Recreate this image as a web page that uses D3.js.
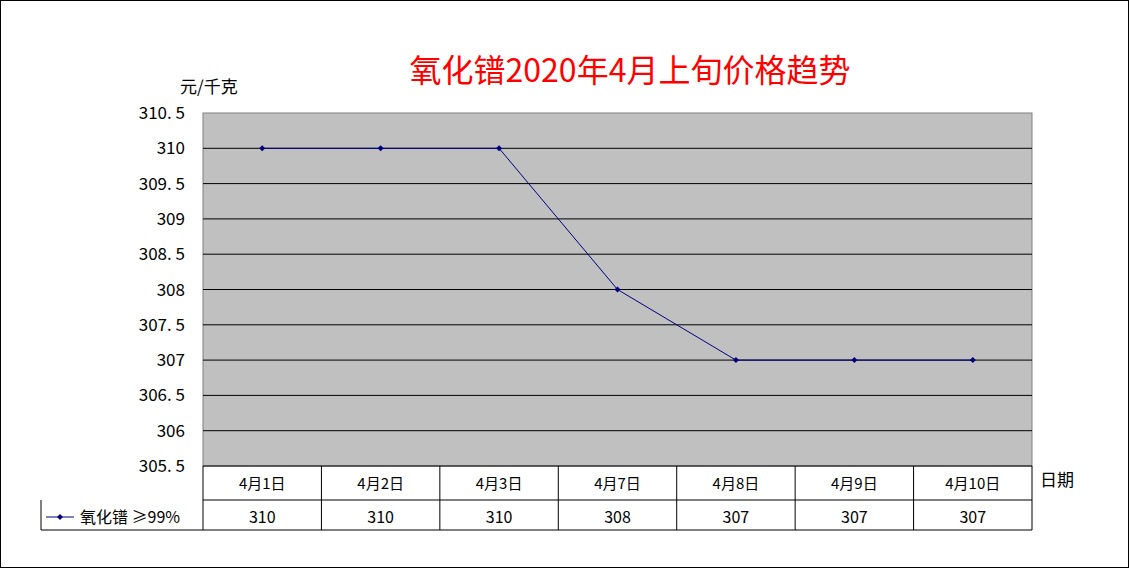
<!DOCTYPE html><html><head><meta charset="utf-8"><script src="https://cdn.jsdelivr.net/npm/d3@7"></script>
<style>body{margin:0;background:#fff}svg{display:block}text{font-family:"Noto Sans CJK SC","DejaVu Sans",sans-serif}</style></head><body><script>
const categories=["4月1日","4月2日","4月3日","4月7日","4月8日","4月9日","4月10日"];
const values=[310,310,310,308,307,307,307];
const yTicks=[305.5,306,306.5,307,307.5,308,308.5,309,309.5,310,310.5];
const seriesName="氧化镨 ≥99%";
const W=1130,H=569;
const svg=d3.select("body").append("svg").attr("width",W).attr("height",H);
svg.append("rect").attr("x",0.5).attr("y",0.5).attr("width",W-2).attr("height",H-2).attr("fill","#fff").attr("stroke","#000");
const L=203,R=1032,T=113,B=466;
const x=d3.scaleBand().domain(categories).range([L,R]);
const y=d3.scaleLinear().domain([305.5,310.5]).range([B,T]);
svg.append("rect").attr("x",L).attr("y",T).attr("width",R-L).attr("height",B-T).attr("fill","#c0c0c0").attr("stroke","#808080");
svg.selectAll(".g").data(yTicks.slice(1,-1)).join("line").attr("x1",L).attr("x2",R).attr("y1",d=>y(d)).attr("y2",d=>y(d)).attr("stroke","#000");
svg.selectAll(".yt").data(yTicks).join("text").attr("x",L-18).attr("y",d=>y(d)+6).attr("text-anchor","end").attr("font-size",17).text(d=>String(d).replace("."," . ").replace(" . ",". "));
svg.append("text").attr("x",180).attr("y",93).attr("font-size",17).text("元/千克");
svg.append("text").attr("x",630).attr("y",82).attr("text-anchor","middle").attr("font-size",32).attr("fill","#ff0000").text("氧化镨2020年4月上旬价格趋势");
const line=d3.line().x((d,i)=>x(categories[i])+x.bandwidth()/2).y(d=>y(d));
svg.append("path").datum(values).attr("d",line).attr("fill","none").attr("stroke","#000080");
svg.selectAll(".pt").data(values).join("path").attr("transform",(d,i)=>`translate(${x(categories[i])+x.bandwidth()/2},${y(d)})`).attr("d","M0,-3L3,0L0,3L-3,0Z").attr("fill","#000080");
// table
const g=svg.append("g").attr("stroke","#000").attr("fill","none");
g.append("line").attr("x1",L).attr("x2",R).attr("y1",B+34).attr("y2",B+34);
g.append("line").attr("x1",41).attr("x2",R).attr("y1",530).attr("y2",530);
g.append("line").attr("x1",41).attr("x2",41).attr("y1",500).attr("y2",530);
g.append("line").attr("x1",L).attr("x2",R).attr("y1",B).attr("y2",B);
categories.concat(["end"]).forEach((c,i)=>{const xx=i<categories.length?x(c):R;g.append("line").attr("x1",xx).attr("x2",xx).attr("y1",B).attr("y2",530);});
svg.selectAll(".ct").data(categories).join("text").attr("x",d=>x(d)+x.bandwidth()/2).attr("y",489).attr("text-anchor","middle").attr("font-size",15).text(d=>d);
svg.selectAll(".vt").data(values).join("text").attr("x",(d,i)=>x(categories[i])+x.bandwidth()/2).attr("y",523).attr("text-anchor","middle").attr("font-size",16).text(d=>d);
svg.append("line").attr("x1",46).attr("x2",74).attr("y1",517).attr("y2",517).attr("stroke","#000080");
svg.append("path").attr("transform","translate(60,517)").attr("d","M0,-3L3,0L0,3L-3,0Z").attr("fill","#000080");
svg.append("text").attr("x",80).attr("y",523).attr("font-size",16).text(seriesName);
svg.append("text").attr("x",1040).attr("y",486).attr("font-size",17).text("日期");
</script></body></html>
